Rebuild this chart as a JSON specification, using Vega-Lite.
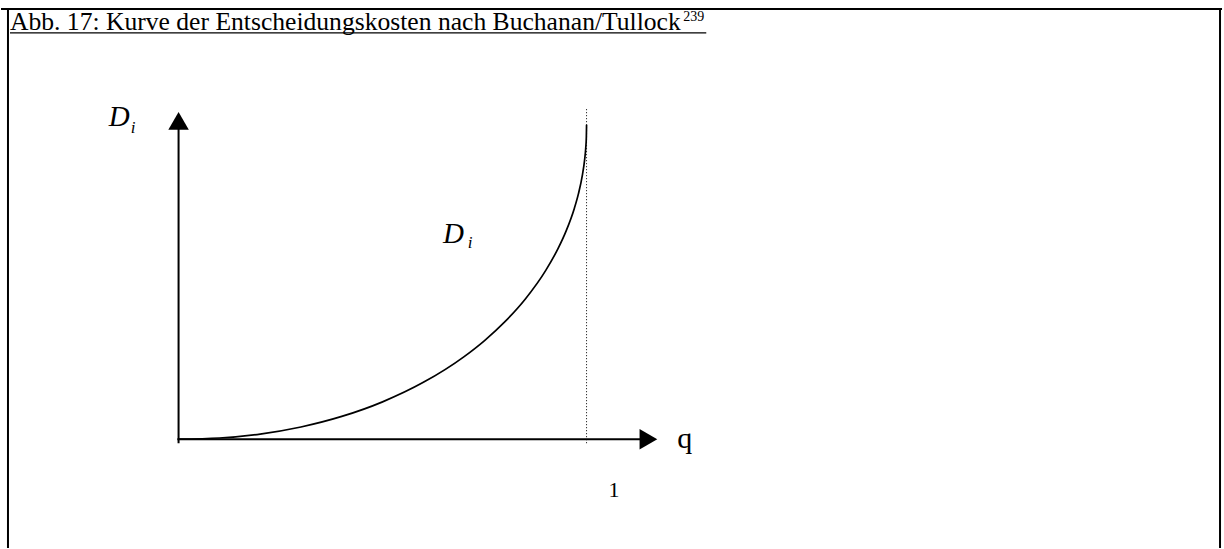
{
  "$schema": "https://vega.github.io/schema/vega-lite/v6.json",
  "width": 1224,
  "height": 549,
  "padding": 0,
  "autosize": {"type": "fit", "contains": "padding"},
  "background": "white",
  "config": {"view": {"stroke": null}},
  "datasets": {
    "curve": [
      {"q": 0.0, "d": 0.0},
      {"q": 0.1, "d": 0.0038},
      {"q": 0.2, "d": 0.0164},
      {"q": 0.3, "d": 0.0389},
      {"q": 0.4, "d": 0.0724},
      {"q": 0.5, "d": 0.1188},
      {"q": 0.6, "d": 0.1808},
      {"q": 0.7, "d": 0.2628},
      {"q": 0.75, "d": 0.3138},
      {"q": 0.8, "d": 0.3739},
      {"q": 0.85, "d": 0.4461},
      {"q": 0.9, "d": 0.537},
      {"q": 0.93, "d": 0.6061},
      {"q": 0.95, "d": 0.6626},
      {"q": 0.97, "d": 0.734},
      {"q": 0.98, "d": 0.7802},
      {"q": 0.99, "d": 0.8415},
      {"q": 0.995, "d": 0.8859},
      {"q": 0.998, "d": 0.9262},
      {"q": 0.9995, "d": 0.9619},
      {"q": 1.0, "d": 1.0}
    ],
    "borders": [
      {"q": -0.4352, "q2": 2.5575, "d": 1.3683, "d2": 1.3683},
      {"q": -0.4181, "q2": -0.4181, "d": -0.346, "d2": 1.3683},
      {"q": 2.5526, "q2": 2.5526, "d": -0.346, "d2": 1.3683}
    ],
    "axes": [
      {"q": 0.0, "q2": 0.0, "d": -0.0127, "d2": 1.0},
      {"q": -0.003, "q2": 1.14, "d": 0.0, "d2": 0.0}
    ],
    "underline": [
      {"q": -0.4132, "q2": 1.2934, "d": 1.2921, "d2": 1.2921}
    ],
    "dotted": [
      {"q": 1.0, "q2": 1.0, "d": -0.0127, "d2": 1.054}
    ],
    "arrowUp": [{"q": 0.0, "d": 1.0127}],
    "arrowRight": [{"q": 1.1516, "d": 0.0}],
    "title": [{"q": -0.4132, "d": 1.3016, "text": "Abb. 17: Kurve der Entscheidungskosten nach Buchanan/Tullock"}],
    "sup": [{"q": 1.2372, "d": 1.3302, "text": "239"}],
    "bigD": [
      {"q": -0.1711, "d": 0.9968, "text": "D"},
      {"q": 0.6479, "d": 0.6254, "text": "D"}
    ],
    "subI": [
      {"q": -0.1174, "d": 0.9746, "text": "i"},
      {"q": 0.709, "d": 0.6095, "text": "i"}
    ],
    "qlab": [{"q": 1.2225, "d": -0.0286, "text": "q"}],
    "one": [{"q": 1.0538, "d": -0.1841, "text": "1"}]
  },
  "encoding": {
    "x": {"field": "q", "type": "quantitative", "axis": null, "scale": {"domain": [-0.43521, 2.55746], "nice": false, "zero": false}},
    "y": {"field": "d", "type": "quantitative", "axis": null, "scale": {"domain": [-0.34603, 1.39683], "nice": false, "zero": false}}
  },
  "layer": [
    {
      "data": {"name": "borders"},
      "mark": {"type": "rule", "color": "black", "strokeWidth": 2},
      "encoding": {"x2": {"field": "q2"}, "y2": {"field": "d2"}}
    },
    {
      "data": {"name": "underline"},
      "mark": {"type": "rule", "color": "black", "strokeWidth": 1.2},
      "encoding": {"x2": {"field": "q2"}, "y2": {"field": "d2"}}
    },
    {
      "data": {"name": "axes"},
      "mark": {"type": "rule", "color": "black", "strokeWidth": 2},
      "encoding": {"x2": {"field": "q2"}, "y2": {"field": "d2"}}
    },
    {
      "data": {"name": "dotted"},
      "mark": {"type": "rule", "color": "black", "strokeWidth": 1, "strokeDash": [1, 2]},
      "encoding": {"x2": {"field": "q2"}, "y2": {"field": "d2"}}
    },
    {
      "data": {"name": "curve"},
      "mark": {"type": "line", "color": "black", "strokeWidth": 1.7, "interpolate": "monotone"},
      "encoding": {"order": {"field": "q", "type": "quantitative"}}
    },
    {
      "data": {"name": "arrowUp"},
      "mark": {"type": "point", "shape": "triangle-up", "size": 420, "filled": true, "color": "black", "opacity": 1, "strokeWidth": 0},
      "encoding": {}
    },
    {
      "data": {"name": "arrowRight"},
      "mark": {"type": "point", "shape": "triangle-right", "size": 420, "filled": true, "color": "black", "opacity": 1, "strokeWidth": 0},
      "encoding": {}
    },
    {
      "data": {"name": "title"},
      "mark": {"type": "text", "font": "Liberation Serif", "fontSize": 25.6, "align": "left", "baseline": "alphabetic", "color": "black"},
      "encoding": {"text": {"field": "text"}}
    },
    {
      "data": {"name": "sup"},
      "mark": {"type": "text", "font": "Liberation Serif", "fontSize": 14, "align": "left", "baseline": "alphabetic", "color": "black"},
      "encoding": {"text": {"field": "text"}}
    },
    {
      "data": {"name": "bigD"},
      "mark": {"type": "text", "font": "Liberation Serif", "fontStyle": "italic", "fontSize": 29, "align": "left", "baseline": "alphabetic", "color": "black"},
      "encoding": {"text": {"field": "text"}}
    },
    {
      "data": {"name": "subI"},
      "mark": {"type": "text", "font": "Liberation Serif", "fontStyle": "italic", "fontSize": 17, "align": "left", "baseline": "alphabetic", "color": "black"},
      "encoding": {"text": {"field": "text"}}
    },
    {
      "data": {"name": "qlab"},
      "mark": {"type": "text", "font": "Liberation Serif", "fontSize": 30, "align": "left", "baseline": "alphabetic", "color": "black"},
      "encoding": {"text": {"field": "text"}}
    },
    {
      "data": {"name": "one"},
      "mark": {"type": "text", "font": "Liberation Serif", "fontSize": 22, "align": "left", "baseline": "alphabetic", "color": "black"},
      "encoding": {"text": {"field": "text"}}
    }
  ]
}
